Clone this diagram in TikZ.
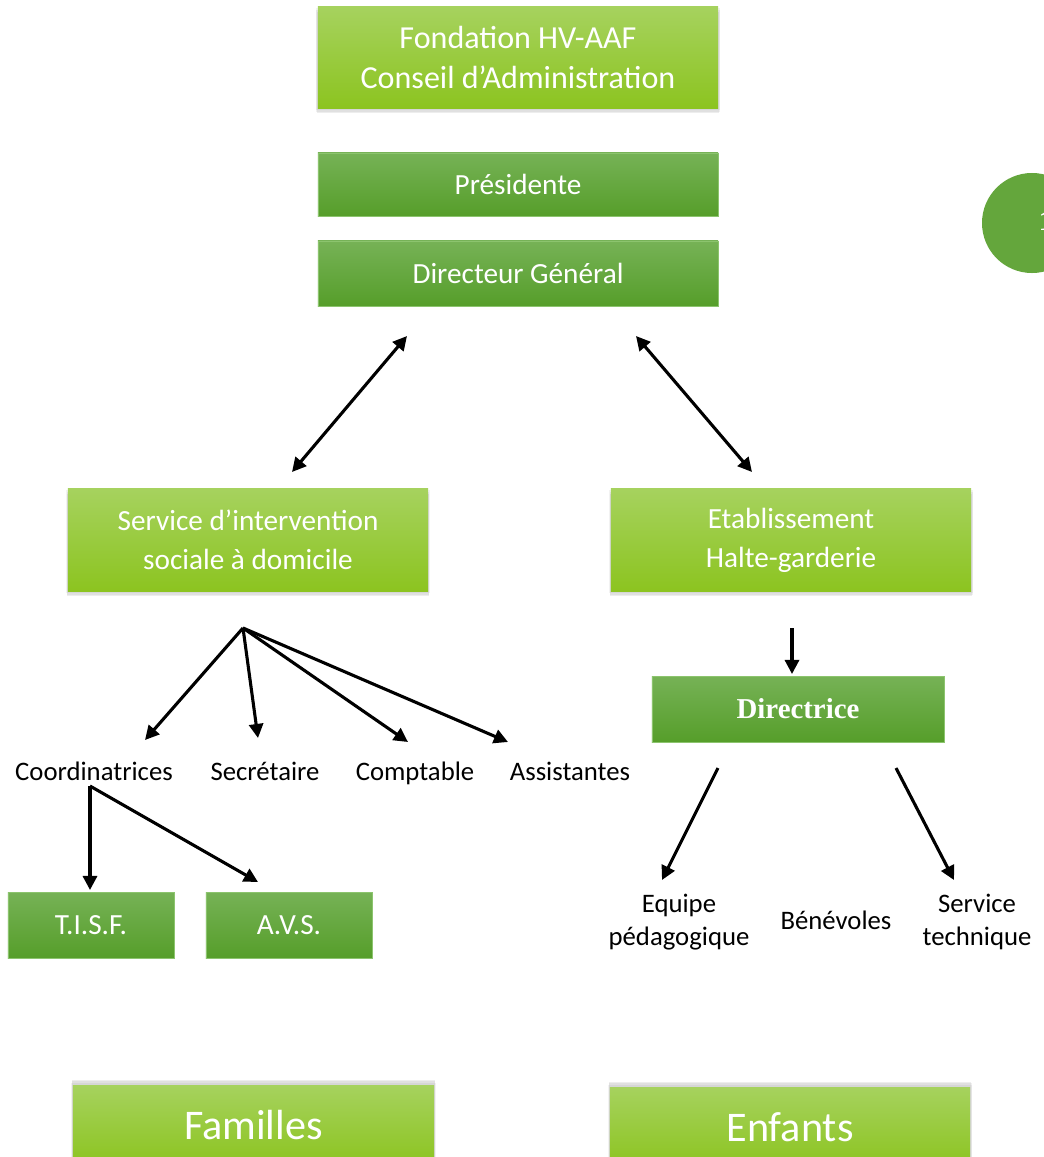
\documentclass[tikz,border=0pt]{standalone}
\usepackage{fontspec}
\setmainfont{Carlito}
\newfontfamily\serifbf{Liberation Serif}
\usetikzlibrary{arrows.meta,shadows}

\definecolor{lgtop}{RGB}{166,210,94}
\definecolor{lgbot}{RGB}{140,196,32}
\definecolor{dgtop}{RGB}{118,178,86}
\definecolor{dgbot}{RGB}{86,158,42}
\definecolor{dgedge}{RGB}{140,196,110}
\definecolor{pagegreen}{RGB}{100,166,60}

\newcommand{\boxfont}{\fontsize{20.8}{27.8}\selectfont}
\newcommand{\topfont}{\fontsize{22.8}{28.5}\selectfont}
\newcommand{\lblfont}{\fontsize{19}{23.5}\selectfont}
\newcommand{\bigfont}{\fontsize{30}{35}\selectfont}

\def\wA{10cm}
\def\wB{9cm}

\begin{document}
\begin{tikzpicture}[x=0.025cm,y=-0.025cm,
    softshadow/.style={
      drop shadow={shadow xshift=0pt,shadow yshift=#1*0.04cm,shadow scale=1.012,opacity=0.10},
      drop shadow={shadow xshift=0pt,shadow yshift=#1*0.08cm,shadow scale=1.008,opacity=0.12},
      drop shadow={shadow xshift=0pt,shadow yshift=#1*0.12cm,shadow scale=1.004,opacity=0.14}},
    lightbox/.style={softshadow=-1,shading=axis,top color=lgtop,bottom color=lgbot,text=white,
      align=center,inner sep=0pt,font=\boxfont},
    lightboxup/.style={softshadow=1,shading=axis,top color=lgtop,bottom color=lgbot,text=white,
      align=center,inner sep=0pt,font=\bigfont},
    darkbox/.style={shading=axis,top color=dgtop,bottom color=dgbot,draw=dgedge,
      line width=0.4pt,text=white,align=center,inner sep=0pt,font=\boxfont},
    lbl/.style={align=center,inner sep=0pt,font=\lblfont},
    arr/.style={-{Triangle[length=10pt,width=10pt]},line width=2.2pt},
    darr/.style={{Triangle[length=10pt,width=10pt]}-{Triangle[length=10pt,width=10pt]},line width=2.2pt}]

  \useasboundingbox (0,0) rectangle (1044,1157);
  \clip (0,0) rectangle (1044,1157);

  % page number mark
  \fill[pagegreen] (1032,223) circle (1.25cm);
  \node[text=white,font=\serifbf\bfseries\fontsize{20}{24}\selectfont] (pnum) at (1046,221) {1};

  %%   (label)  (x, y)  {\text}
  \node[lightbox,minimum width=\wA,minimum height=2.525cm,font=\topfont] (fond) at (518,57.5) {Fondation HV-AAF\\Conseil d’Administration};
  \node[darkbox,minimum width=\wA,minimum height=1.575cm]  (pres) at (518,184.5) {Présidente};
  \node[darkbox,minimum width=\wA,minimum height=1.625cm]  (dg)   at (518,273.5) {Directeur Général};

  \node[lightbox,minimum width=\wB,minimum height=2.55cm] (sisd) at (248,540) {Service d’intervention\\sociale à domicile};
  \node[lightbox,minimum width=\wB,minimum height=2.55cm] (etab) at (791,540) {Etablissement\\Halte-garderie};

  \node[darkbox,minimum width=7.3cm,minimum height=1.65cm,
        font=\serifbf\bfseries\fontsize{20.5}{24}\selectfont] (dir) at (798,709) {Directrice};

  \node[lbl,anchor=base] (coord)  at (94,780)  {Coordinatrices};
  \node[lbl,anchor=base] (secr)   at (265,780) {Secrétaire};
  \node[lbl,anchor=base] (compt)  at (415,780) {Comptable};
  \node[lbl,anchor=base] (assist) at (570,780) {Assistantes};

  \node[darkbox,minimum width=4.15cm,minimum height=1.65cm] (tisf) at (91,925)  {T.I.S.F.};
  \node[darkbox,minimum width=4.15cm,minimum height=1.65cm] (avs)  at (289,925) {A.V.S.};

  \node[lbl] (equipe) at (679,922) {Equipe\\pédagogique};
  \node[lbl] (benev)  at (836,920) {Bénévoles};
  \node[lbl] (tech)   at (977,922) {Service\\technique};

  \node[lightboxup,minimum width=9.025cm,minimum height=2cm] (fam) at (253.5,1125) {Familles};
  \node[lightboxup,minimum width=9cm,minimum height=2cm]     (enf) at (790,1127)   {Enfants};

  % arrow ends
  \coordinate (dgL)   at (407,336);
  \coordinate (dgR)   at (636,336);
  \coordinate (sisdT) at (292,472);
  \coordinate (etabT) at (752,472);
  \coordinate (hub)   at (243,628);
  \coordinate (coordE)  at (145,740);
  \coordinate (secrE)   at (258,738);
  \coordinate (comptE)  at (408,742);
  \coordinate (assistE) at (508,742);
  \coordinate (coordS) at (90,786);
  \coordinate (tisfE)  at (90,890);
  \coordinate (avsE)   at (258,882);
  \coordinate (etabS)  at (792,628);
  \coordinate (dirE)   at (792,674);
  \coordinate (dirL)   at (718,768);
  \coordinate (dirR)   at (896,768);
  \coordinate (equipeE) at (662,880);
  \coordinate (techE)   at (954,880);

  \draw[darr] (dgL) -- (sisdT);
  \draw[darr] (dgR) -- (etabT);
  %
  \draw[arr] (hub) -- (coordE);
  \draw[arr] (hub) -- (secrE);
  \draw[arr] (hub) -- (comptE);
  \draw[arr] (hub) -- (assistE);
  %
  \draw[arr] (coordS) -- (tisfE);
  \draw[arr] (coordS) -- (avsE);
  %
  \draw[arr] (etabS) -- (dirE);
  \draw[arr] (dirL) -- (equipeE);
  \draw[arr] (dirR) -- (techE);

\end{tikzpicture}
\end{document}
